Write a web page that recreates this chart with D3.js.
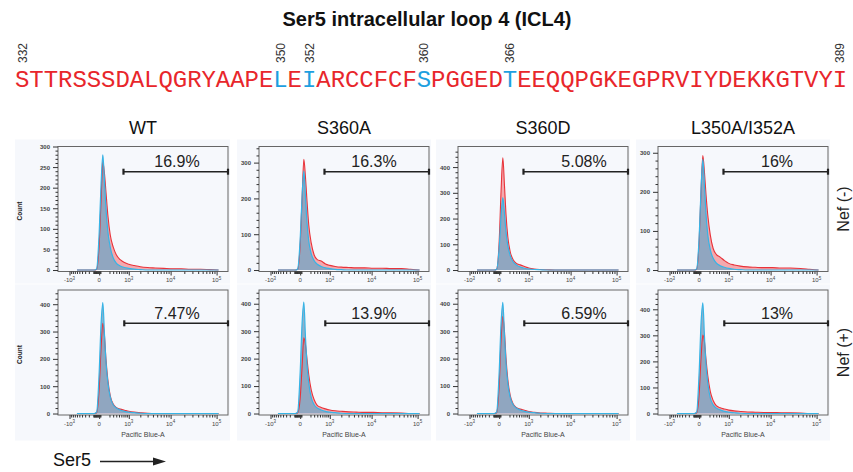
<!DOCTYPE html>
<html lang="en">
<head>
<meta charset="utf-8">
<title>Ser5 ICL4 flow histograms</title>
<script src="https://cdn.jsdelivr.net/npm/d3@7"></script>
<style>
body { margin: 0; background: #fff; }
svg { display: block; font-family: "Liberation Sans", Arial, sans-serif; }
.yaxis text { font-size: 6px; font-weight: bold; fill: #444; }
.yaxis line, .xaxis line { stroke: #333; }
.yaxis path, .xaxis path { display: none; }
</style>
</head>
<body>
<script>
// ---- data ----
var title = "Ser5 intracellular loop 4 (ICL4)";
var sequence = "STTRSSSDALQGRYAAPELEIARCCFCFSPGGEDTEEQQPGKEGPRVIYDEKKGTVYI";
var seqStart = 332;
var seqMarks = [332, 350, 352, 360, 366, 389];
var seqBlue = [350, 352, 360, 366];

var mutants = ["WT", "S360A", "S360D", "L350A/I352A"];
var conditions = ["Nef (-)", "Nef (+)"];
var gateLabels = [["16.9%", "16.3%", "5.08%", "16%"], ["7.47%", "13.9%", "6.59%", "13%"]];
var gateFrom = [700, 740];

var xTickValues = [-1000, 0, 1000, 10000, 100000];
var xTickBase = ["-10", "0", "10", "10", "10"];
var xTickExp = ["3", "", "3", "4", "5"];

// y range shown in each panel (rows: Nef -, Nef +)
var yMaxTop = [300, 345, 480, 316];
var yMaxBottom = [452, 450, 450, 474];
var yStepTop = [50, 100, 100, 100];
var yStepBottom = [100, 100, 100, 100];

// histogram bins (Pacific Blue-A) and counts
var binX = [-600, -300, -150, -80, -40, 0, 30, 60, 90, 120, 160, 220, 300, 400, 550, 750, 1000, 1400, 2000, 3000, 4500, 7000, 11000, 17000, 27000, 45000, 70000, 110000];

var wtMinusBlue    = [0,0,0,0,3,90,210,280,215,150,95,55,30,17,10,6,4,2,1,0,0,0,0,0,0,0,0,0];
var wtMinusRed     = [0,0,0,0,2,60,170,262,235,190,135,85,56,37,25,18,14,11,8,6,5,4,3,3,2,2,1,0];
var s360aMinusBlue = [0,0,0,0,3,85,205,276,205,135,80,45,26,16,10,6,4,2,1,0,0,0,0,0,0,0,0,0];
var s360aMinusRed  = [0,0,0,0,2,70,200,309,260,195,125,75,42,29,25,17,13,10,8,7,6,6,5,5,4,4,2,0];
var s360dMinusBlue = [0,0,0,0,3,85,210,281,220,150,95,55,32,20,12,7,4,2,1,0,0,0,0,0,0,0,0,0];
var s360dMinusRed  = [0,0,0,0,3,110,310,436,330,220,130,70,40,26,20,14,8,4,2,1,0,0,0,0,0,0,0,0];
var l350aMinusBlue = [0,0,0,0,3,85,210,283,215,145,90,52,30,18,11,7,4,2,1,0,0,0,0,0,0,0,0,0];
var l350aMinusRed  = [0,0,0,0,2,75,205,293,250,195,140,90,55,40,33,24,17,13,10,8,7,6,6,5,5,4,2,0];

var wtPlusBlue     = [0,0,0,0,5,150,330,406,290,190,115,60,32,20,13,8,5,3,1,0,0,0,0,0,0,0,0,0];
var wtPlusRed      = [0,0,0,0,3,90,240,330,285,200,125,65,35,22,16,12,8,5,3,1,0,0,0,0,0,0,0,0];
var s360aPlusBlue  = [0,0,0,0,5,150,330,406,280,180,110,58,32,20,13,8,5,3,1,0,0,0,0,0,0,0,0,0];
var s360aPlusRed   = [0,0,0,0,2,55,170,276,250,200,140,85,50,30,22,17,13,10,8,6,5,4,4,3,3,2,0,0];
var s360dPlusBlue  = [0,0,0,0,5,150,330,405,285,185,110,58,32,20,13,8,5,3,1,0,0,0,0,0,0,0,0,0];
var s360dPlusRed   = [0,0,0,0,3,100,270,353,300,205,125,65,35,22,16,12,7,4,2,1,0,0,0,0,0,0,0,0];
var l350aPlusBlue  = [0,0,0,0,5,160,350,425,295,190,115,60,33,21,14,8,5,3,1,0,0,0,0,0,0,0,0,0];
var l350aPlusRed   = [0,0,0,0,2,75,215,301,275,210,145,85,50,30,22,17,13,10,8,6,5,4,4,3,3,2,0,0];

var blueRows = [[wtMinusBlue, s360aMinusBlue, s360dMinusBlue, l350aMinusBlue],
                [wtPlusBlue, s360aPlusBlue, s360dPlusBlue, l350aPlusBlue]];
var redRows = [[wtMinusRed, s360aMinusRed, s360dMinusRed, l350aMinusRed],
               [wtPlusRed, s360aPlusRed, s360dPlusRed, l350aPlusRed]];

// ---- layout ----
var W = 853, H = 472;
var colLeft = [58, 259, 458, 658];
var plotW = 170, plotH = 125;
var rowTop = [146.5, 290];
var gateDy = [25.2, 33.3];
var labelDy = [20.5, 29];
var labelDx = [119, 115, 126, 119];

var red = "#e8333a", redFill = "#f4a9ae";
var blue = "#36b4e6", blueFill = "#82a5c3";

var svg = d3.select("body").append("svg").attr("width", W).attr("height", H);
svg.append("rect").attr("width", W).attr("height", H).attr("fill", "#fff");

// title
svg.append("text").attr("x", 427).attr("y", 26).attr("text-anchor", "middle")
   .attr("font-size", 20).attr("font-weight", "bold").attr("fill", "#111").text(title);

// sequence
var seqX = d3.scaleLinear().domain([0, sequence.length - 1]).range([22.2, 840]);
svg.append("g").selectAll("text")
   .data(sequence.split(""))
   .enter().append("text")
   .attr("x", function(d, i) { return seqX(i); })
   .attr("y", 87)
   .attr("text-anchor", "middle")
   .attr("font-family", "'Liberation Mono', 'Courier New', monospace")
   .attr("font-size", 24)
   .attr("fill", function(d, i) { return seqBlue.indexOf(seqStart + i) >= 0 ? "#1d9fe0" : "#e8262b"; })
   .text(function(d) { return d; });

svg.append("g").selectAll("text")
   .data(seqMarks)
   .enter().append("text")
   .attr("transform", function(d) { return "translate(" + (seqX(d - seqStart) + 4.4) + ",63) rotate(-90)"; })
   .attr("font-size", 12).attr("fill", "#333")
   .text(function(d) { return d; });

// column titles
svg.append("g").selectAll("text")
   .data(mutants)
   .enter().append("text")
   .attr("x", function(d, i) { return colLeft[i] + plotW / 2; })
   .attr("y", 134)
   .attr("text-anchor", "middle")
   .attr("font-size", 18).attr("fill", "#111")
   .text(function(d) { return d; });

var x = d3.scaleSymlog().constant(300).domain([-2000, 176000]).range([0, plotW]);

var minorX = [];
d3.range(-900, 0, 100).forEach(function(v) { minorX.push(v); });
d3.range(-90, 0, 10).forEach(function(v) { minorX.push(v); });
[10, 20].forEach(function(v) { minorX.push(v); });
[100, 1000, 10000].forEach(function(dec) {
	d3.range(2, 10).forEach(function(k) { minorX.push(k * dec); });
});

function drawPanel(r, c) {
	var px = colLeft[c], py = rowTop[r];
	var yMax = r === 0 ? yMaxTop[c] : yMaxBottom[c];
	var yStep = r === 0 ? yStepTop[c] : yStepBottom[c];
	var y = d3.scaleLinear().domain([-yMax * 0.012, yMax]).range([plotH, 0]);

	// panel background
	var bgL = c === 0 ? px - 43 : px - 22;
	svg.append("rect")
	   .attr("x", bgL).attr("y", r === 0 ? 139.5 : 284.5)
	   .attr("width", px + plotW + 2 - bgL).attr("height", r === 0 ? 144 : 156)
	   .attr("fill", "#f6f8fc");

	var g = svg.append("g").attr("transform", "translate(" + px + "," + py + ")");

	var clipId = "clip" + r + c;
	g.append("clipPath").attr("id", clipId)
	 .append("rect").attr("width", plotW).attr("height", plotH);

	var blueData = binX.map(function(v, i) { return [v, blueRows[r][c][i]]; });
	var redData = binX.map(function(v, i) { return [v, redRows[r][c][i]]; });

	var area = d3.area()
		.x(function(d) { return x(d[0]); })
		.y0(y(0))
		.y1(function(d) { return y(d[1]); })
		.curve(d3.curveMonotoneX);
	var line = d3.line()
		.x(function(d) { return x(d[0]); })
		.y(function(d) { return y(d[1]); })
		.curve(d3.curveMonotoneX);

	var h = g.append("g").attr("clip-path", "url(#" + clipId + ")");
	h.append("path").attr("d", area(redData)).attr("fill", redFill);
	h.append("path").attr("d", area(blueData)).attr("fill", blueFill).attr("fill-opacity", 0.88);
	h.append("path").attr("d", line(redData)).attr("fill", "none").attr("stroke", red).attr("stroke-width", 1.1);
	h.append("path").attr("d", line(blueData)).attr("fill", "none").attr("stroke", blue).attr("stroke-width", 1.2);

	// frame
	g.append("rect").attr("width", plotW).attr("height", plotH)
	 .attr("fill", "none").attr("stroke", "#666").attr("stroke-width", 1);

	// y axis
	var major = d3.range(0, yMax + 1, yStep);
	var minor = d3.range(0, yMax, yStep / 5).filter(function(v) { return v % yStep !== 0; });
	g.append("g").attr("class", "yaxis")
	 .call(d3.axisLeft(y).tickValues(major).tickSize(5).tickPadding(3).tickFormat(d3.format("d")));
	g.append("g").attr("class", "yaxis")
	 .call(d3.axisLeft(y).tickValues(minor).tickSize(2.5).tickFormat(""));

	// x axis
	g.append("g").attr("class", "xaxis").attr("transform", "translate(0," + plotH + ")")
	 .call(d3.axisBottom(x).tickValues(xTickValues).tickSize(4).tickFormat(""));
	g.append("g").attr("class", "xaxis").attr("transform", "translate(0," + plotH + ")")
	 .call(d3.axisBottom(x).tickValues(minorX).tickSize(2.5).tickFormat(""));

	var tl = g.append("g").selectAll("text")
		.data(xTickValues)
		.enter().append("text")
		.attr("x", function(d) { return x(d); })
		.attr("y", plotH + 10.5)
		.attr("text-anchor", "middle")
		.attr("font-size", 6).attr("fill", "#444");
	tl.append("tspan").text(function(d, i) { return xTickBase[i]; });
	tl.append("tspan").attr("dy", -2.5).attr("font-size", 4.5)
	  .text(function(d, i) { return xTickExp[i]; });

	if (c === 0) {
		g.append("text")
		 .attr("transform", "translate(-36," + (plotH / 2 + 2) + ") rotate(-90)")
		 .attr("text-anchor", "middle")
		 .attr("font-size", 6.5).attr("font-weight", "bold").attr("fill", "#222")
		 .text("Count");
	}
	if (r === 1) {
		g.append("text").attr("x", plotW / 2).attr("y", plotH + 21.5)
		 .attr("text-anchor", "middle").attr("font-size", 7).attr("fill", "#444")
		 .text("Pacific Blue-A");
	}

	// gate
	var gx0 = x(gateFrom[r]), gx1 = plotW, gy = gateDy[r];
	g.append("line").attr("x1", gx0).attr("x2", gx1).attr("y1", gy).attr("y2", gy)
	 .attr("stroke", "#222").attr("stroke-width", 1.4);
	[gx0, gx1].forEach(function(xx) {
		g.append("line").attr("x1", xx).attr("x2", xx).attr("y1", gy - 3).attr("y2", gy + 3)
		 .attr("stroke", "#222").attr("stroke-width", 2.2);
	});
	g.append("text").attr("x", labelDx[c]).attr("y", labelDy[r])
	 .attr("text-anchor", "middle").attr("font-size", 16).attr("fill", "#222")
	 .text(gateLabels[r][c]);
}

for (var r = 0; r < 2; r++) {
	for (var c = 0; c < 4; c++) drawPanel(r, c);
	// row label on the right
	svg.append("text")
	   .attr("transform", "translate(849," + (rowTop[r] + plotH / 2) + ") rotate(-90)")
	   .attr("text-anchor", "middle").attr("font-size", 16).attr("fill", "#222")
	   .text(conditions[r]);
}

// Ser5 arrow
svg.append("text").attr("x", 53).attr("y", 466).attr("font-size", 18).attr("fill", "#111").text("Ser5");
svg.append("line").attr("x1", 100).attr("x2", 154).attr("y1", 461.5).attr("y2", 461.5)
   .attr("stroke", "#222").attr("stroke-width", 1.5);
svg.append("path").attr("d", "M153,457.5 L166,461.5 L153,465.5 Z").attr("fill", "#222");
</script>
</body>
</html>
